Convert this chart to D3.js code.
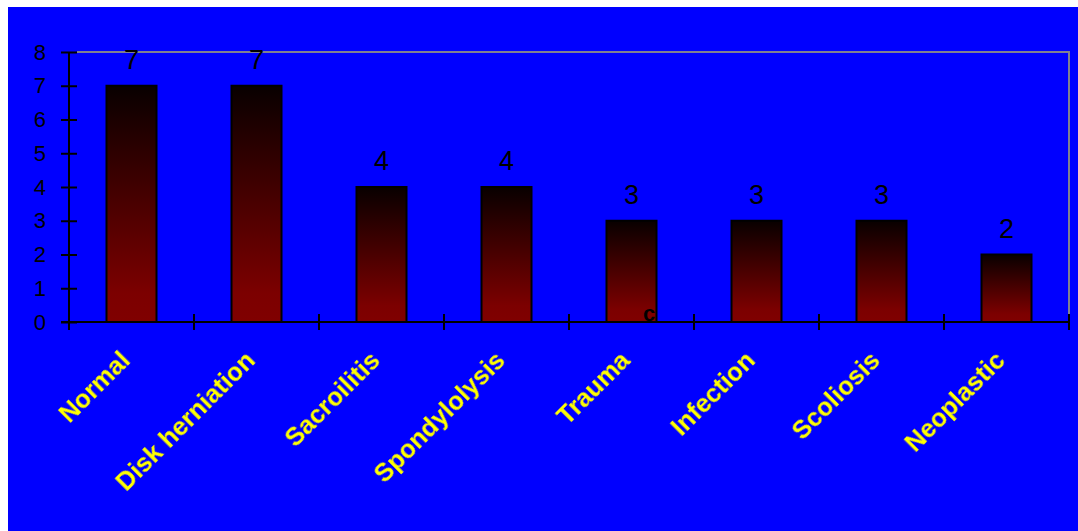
<!DOCTYPE html>
<html>
<head>
<meta charset="utf-8">
<script src="https://cdn.jsdelivr.net/npm/d3@7"></script>
<style>
  html, body { margin: 0; padding: 0; background: #ffffff; }
  svg { display: block; }
</style>
</head>
<body>
<svg id="chart" width="1078" height="531"></svg>
<script>
// Diagnoses and case counts
const categories = ["Normal", "Disk herniation", "Sacroilitis", "Spondylolysis",
                    "Trauma", "Infection", "Scoliosis", "Neoplastic"];
const counts = [7, 7, 4, 4, 3, 3, 3, 2];
const yTicks = [0, 1, 2, 3, 4, 5, 6, 7, 8];

const W = 1078, H = 531;
const svg = d3.select("#chart");
const FONT = "Liberation Sans, Arial, sans-serif";

// Blue panel
svg.append("rect")
  .attr("x", 8).attr("y", 7)
  .attr("width", W - 8).attr("height", H - 7)
  .attr("fill", "#0000ff");

const plot = { left: 69, right: 1069, top: 52, bottom: 322 };

const x = d3.scaleBand()
  .domain(categories)
  .range([plot.left, plot.right])
  .paddingInner(0.6)
  .paddingOuter(0.3);

const xEdges = d3.scaleBand()
  .domain(categories)
  .range([plot.left, plot.right])
  .padding(0);

const y = d3.scaleLinear()
  .domain([0, 8])
  .range([plot.bottom, plot.top]);

const defs = svg.append("defs");

// Bar gradient: black at the top to maroon at the bottom
const grad = defs.append("linearGradient")
  .attr("id", "barGrad")
  .attr("x1", 0).attr("y1", 0).attr("x2", 0).attr("y2", 1);
grad.append("stop").attr("offset", "0%").attr("stop-color", "#080000");
grad.append("stop").attr("offset", "88%").attr("stop-color", "#7c0000");
grad.append("stop").attr("offset", "100%").attr("stop-color", "#800000");

// Slight softening for the rotated category labels
defs.append("filter")
  .attr("id", "soft")
  .attr("x", "-10%").attr("y", "-10%").attr("width", "120%").attr("height", "120%")
  .append("feGaussianBlur")
  .attr("stdDeviation", 0.5);

// Plot frame (top and right edges)
svg.append("path")
  .attr("d", `M${plot.left + 8},${plot.top}H${plot.right}V${plot.bottom}`)
  .attr("fill", "none")
  .attr("stroke", "#808090")
  .attr("stroke-width", 2);

// Bars
svg.append("g").selectAll("rect")
  .data(categories)
  .join("rect")
  .attr("x", d => x(d))
  .attr("y", (d, i) => y(counts[i]))
  .attr("width", x.bandwidth())
  .attr("height", (d, i) => y(0) - y(counts[i]))
  .attr("fill", "url(#barGrad)")
  .attr("stroke", "#000")
  .attr("stroke-width", 2);

// Value labels
svg.append("g").selectAll("text")
  .data(categories)
  .join("text")
  .attr("x", d => x(d) + x.bandwidth() / 2)
  .attr("y", (d, i) => y(counts[i]) - 17)
  .attr("text-anchor", "middle")
  .style("font-family", FONT)
  .style("font-size", "27px")
  .attr("fill", "#000")
  .text((d, i) => counts[i]);

// Y axis
const yAxis = d3.axisLeft(y)
  .tickValues(yTicks)
  .tickSizeInner(8)
  .tickSizeOuter(0)
  .tickPadding(15)
  .tickFormat(d3.format("d"));
const gy = svg.append("g")
  .attr("transform", `translate(${plot.left},0)`)
  .call(yAxis);
gy.select(".domain").remove();
gy.selectAll(".tick line")
  .attr("x1", -8).attr("x2", 8)
  .attr("stroke", "#000").attr("stroke-width", 2);
gy.selectAll(".tick text")
  .style("font-family", FONT)
  .style("font-size", "22px")
  .attr("fill", "#000");
gy.append("line")
  .attr("x1", 0).attr("x2", 0)
  .attr("y1", plot.top).attr("y2", plot.bottom + 8)
  .attr("stroke", "#000").attr("stroke-width", 2);

// X axis: ticks at category boundaries
const boundaries = categories.map(c => xEdges(c)).concat([plot.right]);
const gx = svg.append("g");
gx.append("line")
  .attr("x1", plot.left - 8).attr("x2", plot.right)
  .attr("y1", plot.bottom).attr("y2", plot.bottom)
  .attr("stroke", "#000").attr("stroke-width", 2);
gx.selectAll("line.tk")
  .data(boundaries)
  .join("line")
  .attr("class", "tk")
  .attr("x1", d => d).attr("x2", d => d)
  .attr("y1", plot.bottom - 8).attr("y2", plot.bottom + 8)
  .attr("stroke", "#000").attr("stroke-width", 2);

// Category labels, rotated
gx.selectAll("text.cat")
  .data(categories)
  .join("text")
  .attr("class", "cat")
  .attr("transform", d => `translate(${x(d) + x.bandwidth() / 2},${plot.bottom + 40}) rotate(-45)`)
  .attr("text-anchor", "end")
  .attr("filter", "url(#soft)")
  .style("font-family", FONT)
  .style("font-weight", "bold")
  .style("font-size", "25.5px")
  .attr("fill", "#ffff00")
  .text(d => d);

// Stray letter on the baseline
svg.append("text")
  .attr("x", 649).attr("y", 321)
  .attr("text-anchor", "middle")
  .style("font-family", FONT)
  .style("font-weight", "bold")
  .style("font-size", "22px")
  .attr("fill", "#000")
  .text("c");
</script>
</body>
</html>
